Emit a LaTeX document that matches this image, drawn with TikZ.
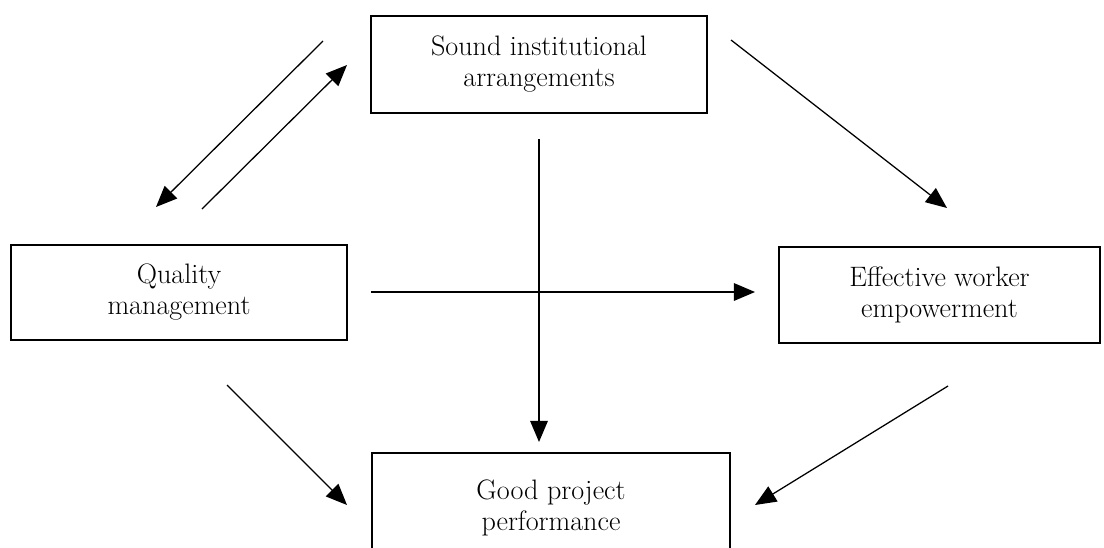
\documentclass[tikz,border=0pt]{standalone}
\usepackage{tikz}
\usetikzlibrary{positioning,arrows.meta}

\begin{document}
\begin{tikzpicture}[x=0.025cm,y=-0.025cm,
    >={Triangle[length=15pt,width=12.5pt]},
    box/.style={draw,line width=1pt,rectangle,align=center,inner sep=0pt,
      font=\fontsize{20}{22}\selectfont},
    conn/.style={->,line width=0.9pt}]
  \useasboundingbox (0,0) rectangle (1104,547);
  % the four boxes
  \node[box,minimum width=8.4cm,minimum height=2.425cm] (sound) at (539,64.5)
    {Sound institutional\\arrangements};
  \node[box,minimum width=8.4cm,minimum height=2.375cm] (quality) at (179,292.5)
    {Quality\\management};
  \node[box,minimum width=8.025cm,minimum height=2.4cm] (effective) at (939.5,295)
    {Effective worker\\empowerment};
  \node[box,minimum width=8.95cm,minimum height=2.75cm] (good) at (551,508)
    {Good project\\performance};
  % arrow ends
  \coordinate (a1) at (323,41);   \coordinate (a2) at (156,207);
  \coordinate (b1) at (202,209);  \coordinate (b2) at (347,65);
  \coordinate (c1) at (731,40);   \coordinate (c2) at (947,208);
  \coordinate (d1) at (539,139);  \coordinate (d2) at (539,442);
  \coordinate (e1) at (371,292);  \coordinate (e2) at (755,292);
  \coordinate (f1) at (227,385);  \coordinate (f2) at (347,505);
  \coordinate (g1) at (948,386);  \coordinate (g2) at (755,505);
  \draw[conn] (a1) -- (a2);
  \draw[conn] (b1) -- (b2);
  \draw[conn] (c1) -- (c2);
  \draw[conn] (d1) -- (d2);
  \draw[conn] (e1) -- (e2);
  \draw[conn] (f1) -- (f2);
  \draw[conn] (g1) -- (g2);
\end{tikzpicture}
\end{document}
